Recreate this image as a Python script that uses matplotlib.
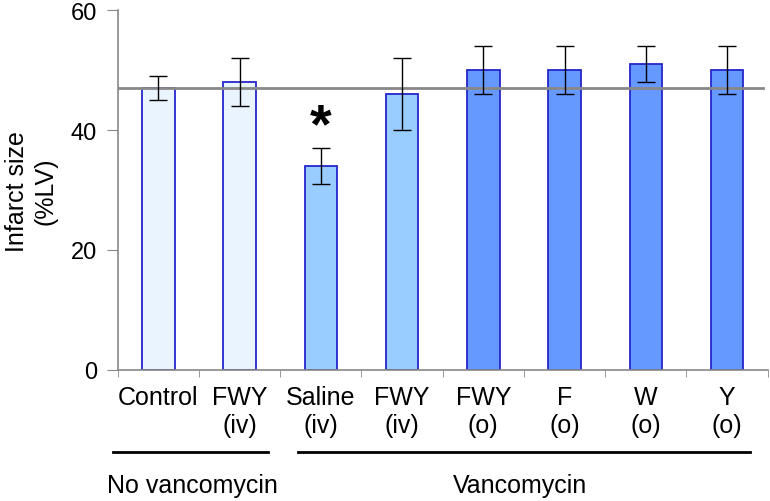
import numpy as np
import matplotlib.pyplot as plt
from matplotlib.lines import Line2D

plt.rcParams['font.family'] = ['Liberation Sans', 'DejaVu Sans']

labels = ['Control', 'FWY\n(iv)', 'Saline\n(iv)', 'FWY\n(iv)', 'FWY\n(o)', 'F\n(o)', 'W\n(o)', 'Y\n(o)']
values = [47, 48, 34, 46, 50, 50, 51, 50]
errors = [2, 4, 3, 6, 4, 4, 3, 4]
colors = ['#EAF4FE', '#EAF4FE', '#99CCFF', '#99CCFF', '#6699FF', '#6699FF', '#6699FF', '#6699FF']
control_mean = 47.1
groups = [('No vancomycin', -0.56, 1.35, 0.42), ('Vancomycin', 1.72, 7.28, 4.45)]

fig = plt.figure(figsize=(7.7, 5.02), dpi=100)
ax = fig.add_axes([0.1529, 0.2616, 0.844, 0.7155])

x = np.arange(len(values))
ax.bar(x, values, width=0.4, color=colors, edgecolor='#2525CC', linewidth=1.3, zorder=2)
ax.errorbar(x, values, yerr=errors, fmt='none', ecolor='black', elinewidth=1,
            capsize=6.5, capthick=1, zorder=4)
ax.axhline(control_mean, xmin=0, xmax=0.993, color='#888888', linewidth=2, zorder=3)

# significance marker over saline
ax.text(2, 36.2, '*', ha='center', va='bottom', fontsize=40, fontweight='bold')

ax.set_xlim(-0.5, 7.5)
ax.set_ylim(0, 60)
ax.set_yticks([0, 20, 40, 60])
ax.set_xticks(x)
ax.set_xticklabels(labels, fontsize=18)
ax.set_xticks(np.arange(-0.5, 8, 1), minor=True)
ax.tick_params(axis='x', which='major', length=0, pad=11)
ax.tick_params(axis='x', which='minor', length=5, color='#888888', direction='out')
ax.tick_params(axis='y', length=8, color='#888888', labelsize=17, pad=7)

for side in ['top', 'right']:
    ax.spines[side].set_visible(False)
for side in ['left', 'bottom']:
    ax.spines[side].set_color('#888888')
    ax.spines[side].set_linewidth(1.2)

ax.set_ylabel('Infarct size\n(%LV)', fontsize=18)
ax.yaxis.set_label_coords(-0.093, 0.5)

trans = ax.get_xaxis_transform()
for name, x0, x1, xc in groups:
    ax.add_line(Line2D([x0, x1], [-0.23, -0.23], transform=trans, color='black',
                       linewidth=2, clip_on=False))
    ax.text(xc, -0.322, name, transform=trans, ha='center', va='center', fontsize=18)

fig.savefig('out.png', dpi=100)
